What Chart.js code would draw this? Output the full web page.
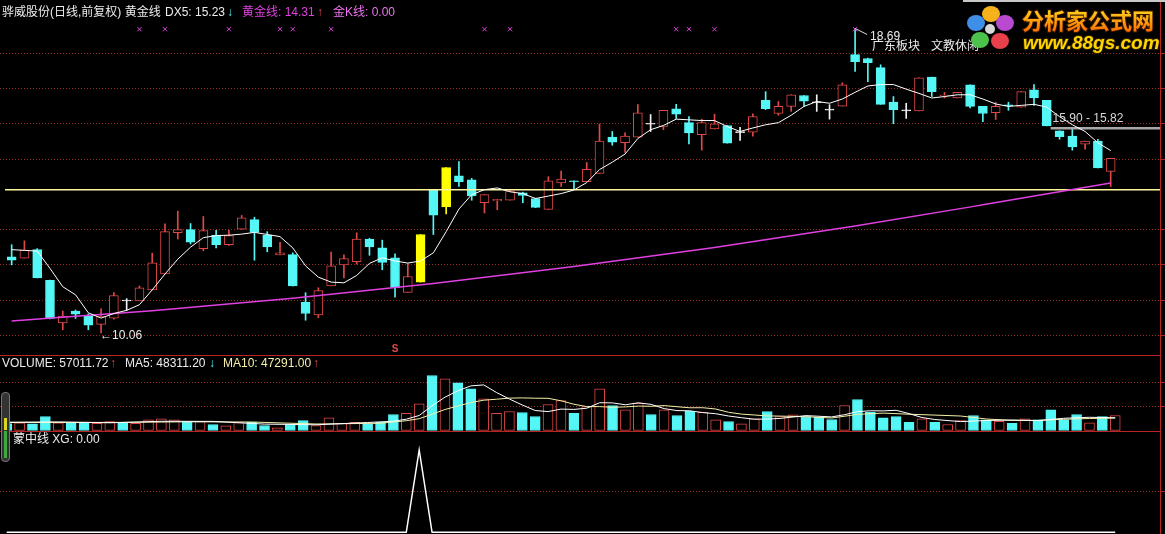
<!DOCTYPE html>
<html>
<head>
<meta charset="utf-8">
<script src="https://cdn.jsdelivr.net/npm/chart.js@4.4.1/dist/chart.umd.min.js"></script>
<style>
html, body { margin: 0; padding: 0; background: #000; overflow: hidden; }
#wrap { position: relative; width: 1165px; height: 534px; background: #000; }
#wrap canvas { position: absolute; left: 0; }
#sep1 { position: absolute; left: 0; top: 355px; width: 1161px; height: 1px; background: #b82424; }
#knob { position: absolute; left: 1px; top: 392px; width: 7px; height: 68px; border: 1px solid #777; border-radius: 4px; background: #333; }
#knob .y { position: absolute; left: 2px; top: 25px; width: 3px; height: 12px; background: #d8d820; }
#knob .g { position: absolute; left: 2px; top: 38px; width: 3px; height: 27px; background: #3caa3c; }
</style>
</head>
<body>
<div id="wrap">
  <canvas id="kline" width="1165" height="355" style="top:0"></canvas>
  <div id="sep1"></div>
  <canvas id="vol" width="1165" height="75" style="top:356px"></canvas>
  <canvas id="xg" width="1165" height="103" style="top:431px"></canvas>
  <div id="knob"><div class="y"></div><div class="g"></div></div>
</div>
<script>
// ---- values ----
const days = Array.from({ length: 87 }, (_, i) => i);

const opens = [
  12.22, 12.18, 12.42, 11.55, 10.34, 10.68, 10.56, 10.30, 10.48, 10.985,
  10.97, 11.28, 11.73, 12.90, 12.99, 12.45, 12.83, 12.56, 13.00, 13.27,
  12.83, 12.27, 12.28, 10.93, 10.57, 11.39, 11.99, 12.08, 12.72, 12.47,
  12.19, 11.21, 11.50, 14.10, 13.63, 14.51, 14.40, 13.75, 13.80, 13.82,
  14.03, 13.87, 13.56, 14.31, 14.37, 14.35, 14.58, 15.61, 15.45, 15.61,
  15.995, 15.91, 16.41, 16.02, 15.68, 15.84, 15.94, 15.745, 15.75, 16.65,
  16.28, 16.48, 16.79, 16.605, 16.395, 16.49, 17.95, 17.84, 17.58, 16.60,
  16.375, 16.35, 17.31, 16.78, 16.72, 17.09, 16.48, 16.30, 16.52, 16.46,
  16.95, 16.65, 15.79, 15.64, 15.41, 15.50, 14.64
];
const highs = [
  12.56, 12.67, 12.45, 11.56, 10.68, 10.71, 10.60, 10.74, 11.20, 11.03,
  11.39, 12.32, 13.15, 13.51, 13.16, 13.36, 12.97, 12.97, 13.39, 13.34,
  12.93, 12.63, 12.33, 11.20, 11.34, 12.35, 12.27, 12.90, 12.74, 12.69,
  12.30, 12.03, 12.85, 14.10, 14.75, 14.92, 14.44, 13.98, 13.85, 14.12,
  14.05, 13.88, 14.49, 14.65, 14.37, 14.89, 15.98, 15.77, 15.73, 16.53,
  16.25, 16.37, 16.54, 16.19, 16.12, 16.26, 15.94, 15.89, 16.27, 16.90,
  16.62, 16.81, 16.79, 16.81, 16.53, 17.15, 18.69, 17.85, 17.66, 16.76,
  16.57, 17.29, 17.31, 16.88, 16.88, 17.09, 16.48, 16.60, 16.60, 16.90,
  17.10, 16.65, 15.79, 15.84, 15.50, 15.55, 15.01
];
const lows = [
  11.99, 12.18, 11.62, 10.46, 10.15, 10.47, 10.15, 10.06, 10.45, 10.70,
  10.97, 11.28, 11.73, 12.72, 12.58, 12.39, 12.47, 12.54, 13.00, 12.12,
  12.36, 12.27, 11.39, 10.42, 10.49, 11.39, 11.62, 12.01, 12.26, 11.85,
  11.07, 11.21, 11.50, 12.85, 13.43, 14.21, 13.82, 13.46, 13.55, 13.82,
  13.75, 13.61, 13.56, 14.21, 14.12, 14.35, 14.58, 15.38, 15.18, 15.61,
  15.77, 15.82, 16.14, 15.42, 15.24, 15.84, 15.44, 15.52, 15.64, 16.39,
  16.23, 16.34, 16.48, 16.34, 16.12, 16.49, 17.47, 17.18, 16.54, 15.99,
  16.14, 16.35, 16.76, 16.72, 16.72, 16.44, 16.05, 16.11, 16.37, 16.46,
  16.51, 15.93, 15.55, 15.24, 15.27, 14.74, 14.21
];
const closes = [
  12.12, 12.41, 11.62, 10.47, 10.54, 10.59, 10.28, 10.54, 11.12, 10.975,
  11.34, 12.05, 12.93, 12.99, 12.63, 12.96, 12.56, 12.82, 13.32, 12.91,
  12.50, 12.33, 11.39, 10.61, 11.26, 11.96, 12.17, 12.72, 12.50, 12.06,
  11.34, 11.66, 12.85, 13.40, 14.75, 14.35, 13.94, 13.98, 13.85, 14.09,
  13.96, 13.62, 14.37, 14.42, 14.35, 14.70, 15.50, 15.47, 15.64, 16.30,
  15.985, 16.37, 16.26, 15.73, 16.02, 15.99, 15.44, 15.755, 16.19, 16.42,
  16.48, 16.81, 16.63, 16.595, 16.385, 17.09, 17.75, 17.72, 16.54, 16.39,
  16.365, 17.29, 16.90, 16.80, 16.88, 16.48, 16.28, 16.48, 16.50, 16.90,
  16.72, 15.93, 15.62, 15.33, 15.50, 14.74, 15.01
];

// DX5 (white line)
const dx5 = [
  12.42, 12.40, 12.38, 11.89, 11.37, 11.14, 10.63, 10.48, 10.61, 10.70,
  10.86, 11.28, 11.73, 12.15, 12.49, 12.76, 12.82, 12.83, 12.86, 12.91,
  12.85, 12.79, 12.47, 11.96, 11.64, 11.50, 11.48, 11.69, 12.03, 12.19,
  12.10, 12.04, 12.10, 12.33, 12.93, 13.57, 13.98, 14.12, 14.17, 14.06,
  14.01, 13.87, 13.94, 14.01, 14.11, 14.32, 14.69, 14.90, 15.13, 15.57,
  15.82, 15.94, 16.12, 16.10, 16.08, 16.08, 15.91, 15.77, 15.87, 15.96,
  16.02, 16.23, 16.48, 16.62, 16.57, 16.69, 16.88, 17.06, 17.10, 17.10,
  16.97, 16.85, 16.72, 16.76, 16.81, 16.81, 16.69, 16.55, 16.48, 16.51,
  16.54, 16.46, 16.19, 15.96, 15.77, 15.45, 15.23
];

// 黄金线 (magenta), read at a few days
const goldIdx = [0, 11, 22, 33, 44, 55, 66, 76, 86];
const goldVal = [10.40, 10.69, 11.04, 11.46, 11.94, 12.48, 13.09, 13.69, 14.31];

const goldK = [32, 34];                 // yellow candles
const markIdx = [10, 12, 17, 21, 22, 25, 37, 39, 52, 53, 55, 66];
const markLevel = 18.67;
const sellIdx = [30];
const baseLine = 14.12;                 // pale yellow horizontal
const rangeHigh = 15.90, rangeLow = 15.82, rangeFrom = 81.3;

const volumes = [
  26600, 29300, 25500, 53200, 29300, 27700, 27700, 27700, 34200, 27700,
  27700, 40700, 44500, 40700, 31500, 34200, 22800, 17900, 30400, 31500,
  19000, 10300, 22800, 38000, 19000, 48300, 27700, 31500, 25500, 31500,
  60800, 65700, 101500, 209000, 196500, 181300, 158500, 120500, 65700, 72200,
  68400, 53200, 98800, 114000, 65700, 91200, 158500, 95000, 78700, 103700,
  60800, 78700, 57000, 73300, 69500, 40700, 34200, 25500, 44500, 72200,
  53200, 59700, 53200, 50500, 41800, 95000, 117800, 69500, 48300, 53200,
  31500, 44500, 31500, 22800, 38000, 57000, 40700, 35300, 27700, 44500,
  40700, 78700, 40700, 60800, 29300, 53200, 57011.72
];
const volMa5 = [
  [0, 31500], [4, 32700], [8, 29300], [12, 35000], [16, 34600], [20, 24300], [24, 21700],
  [28, 30400], [30, 35300], [31, 42900], [32, 57000], [33, 93900], [34, 126500], [35, 150900],
  [36, 169500], [37, 173300], [38, 144400], [39, 119700], [40, 96900], [41, 76000], [42, 71800],
  [43, 81300], [44, 80200], [45, 84700], [46, 105600], [47, 104900], [48, 97700], [49, 105300],
  [50, 99200], [51, 83200], [52, 75600], [53, 74900], [54, 68000], [55, 63800], [56, 55100],
  [57, 48600], [58, 42900], [59, 43300], [60, 46000], [62, 56600], [64, 51700], [65, 60000],
  [66, 71800], [67, 74900], [68, 74500], [69, 76800], [70, 64200], [71, 49400], [72, 41800],
  [74, 33800], [76, 38000], [78, 39900], [80, 37600], [82, 46400], [84, 50200], [86, 48311.20]
];
const volMa10 = [
  [0, 30400], [9, 30800], [14, 33100], [19, 32300], [24, 24700], [29, 27400], [31, 37200],
  [32, 44800], [33, 61900], [34, 79800], [35, 93100], [36, 106000], [37, 115100], [38, 118900],
  [39, 123100], [40, 123900], [41, 122700], [42, 122400], [43, 112900], [44, 99900], [45, 90800],
  [46, 90800], [47, 88200], [48, 89700], [49, 92700], [50, 92000], [51, 94600], [52, 90400],
  [53, 86300], [54, 86600], [55, 81700], [56, 69200], [57, 62300], [58, 58900], [59, 55500],
  [60, 54700], [62, 52400], [64, 47500], [66, 61200], [68, 66100], [70, 61900], [72, 58500],
  [74, 55100], [76, 43700], [78, 38400], [80, 38400], [82, 42600], [84, 45600], [86, 47291.00]
];

// 蒙中线 XG
const xg = [
  0, 0, 0, 0, 0, 0, 0, 0, 0, 0,
  0, 0, 0, 0, 0, 0, 0, 0, 0, 0,
  0, 0, 0, 0, 0, 0, 0, 0, 0, 0,
  0, 0, 1, 0, 0, 0, 0, 0, 0, 0,
  0, 0, 0, 0, 0, 0, 0, 0, 0, 0,
  0, 0, 0, 0, 0, 0, 0, 0, 0, 0,
  0, 0, 0, 0, 0, 0, 0, 0, 0, 0,
  0, 0, 0, 0, 0, 0, 0, 0, 0, 0,
  0, 0, 0, 0, 0, 0, 0
];

const priceGrid = [10, 11, 12, 13, 15, 16, 17, 18];
const volGrid = [92000, 184000];
const xgGrid = [0.5];

// ---- styling ----
const RED = '#e04848', CYAN = '#55f6f6', YEL = '#ffff00', WHITE = '#f2f2f2';
const MAG = '#e040e0', PINK = '#ee74ee', TXT = '#ececec', GRID = '#962a2a', EDGE = '#b82424';
const FONT = '12px "Liberation Sans", "Noto Sans CJK SC", sans-serif';
const X_MIN = -0.52, X_MAX = 89.86;

function kColor(i) {
  if (goldK.includes(i)) return YEL;
  const d = closes[i] - opens[i];
  if (Math.abs(d) < 0.015) return WHITE;
  return d > 0 ? RED : CYAN;
}

function baseOptions(yMin, yMax) {
  return {
    responsive: false, animation: false, devicePixelRatio: 1, events: [],
    layout: { padding: 0 },
    plugins: { legend: { display: false }, tooltip: { enabled: false } },
    scales: {
      x: { type: 'linear', display: false, min: X_MIN, max: X_MAX, offset: false, bounds: 'data' },
      y: { type: 'linear', display: false, min: yMin, max: yMax, beginAtZero: false, bounds: 'data' }
    }
  };
}

function dotted(ctx, y) {
  const yy = Math.round(y) + 0.5;
  ctx.save();
  ctx.strokeStyle = GRID;
  ctx.lineWidth = 1;
  ctx.setLineDash([1, 2]);
  ctx.beginPath();
  ctx.moveTo(0, yy);
  ctx.lineTo(1160, yy);
  ctx.stroke();
  ctx.restore();
}

function rightEdge(ctx, h, ticks) {
  ctx.save();
  ctx.strokeStyle = EDGE;
  ctx.lineWidth = 1;
  ctx.beginPath();
  ctx.moveTo(1160.5, 0);
  ctx.lineTo(1160.5, h);
  ticks.forEach(t => {
    ctx.moveTo(1160, Math.round(t) + 0.5);
    ctx.lineTo(1165, Math.round(t) + 0.5);
  });
  ctx.stroke();
  ctx.restore();
}

function text(ctx, x, y, str, color, font, align) {
  ctx.font = font || FONT;
  ctx.fillStyle = color;
  ctx.textBaseline = 'middle';
  ctx.textAlign = align || 'left';
  ctx.fillText(str, x, y);
}

function drawLogo(ctx) {
  ctx.save();
  ctx.textAlign = 'left';
  ctx.fillStyle = '#c8c8c8';
  ctx.fillRect(963, 0, 202, 2);
  const cx = 990, cy = 29;
  const petals = [[1, -15, '#f6b21b'], [-14, -6, '#3f8fe8'], [15, -6, '#b84ad0'], [-10, 11, '#4cc24c'], [10, 12, '#e8404a']];
  petals.forEach(([dx, dy, c]) => {
    ctx.beginPath();
    ctx.ellipse(cx + dx, cy + dy, 9, 8, 0, 0, Math.PI * 2);
    ctx.fillStyle = c;
    ctx.fill();
  });
  ctx.beginPath();
  ctx.arc(cx, cy, 5, 0, Math.PI * 2);
  ctx.fillStyle = '#d8d8d8';
  ctx.fill();

  ctx.textBaseline = 'middle';
  ctx.font = 'bold 22px "Noto Sans CJK SC", sans-serif';
  const g = ctx.createLinearGradient(0, 10, 0, 32);
  g.addColorStop(0, '#ffd21a');
  g.addColorStop(1, '#ff6c00');
  ctx.lineWidth = 2;
  ctx.strokeStyle = '#3a1800';
  ctx.strokeText('分析家公式网', 1022, 21);
  ctx.fillStyle = g;
  ctx.fillText('分析家公式网', 1022, 21);

  ctx.font = 'italic bold 19px "Liberation Sans", sans-serif';
  ctx.strokeStyle = '#2a2000';
  ctx.strokeText('www.88gs.com', 1023, 44);
  ctx.fillStyle = '#ffd400';
  ctx.fillText('www.88gs.com', 1023, 44);
  ctx.restore();
}

// ---- main candle panel ----
const bodies = days.map(i => {
  let a = opens[i], b = closes[i];
  if (Math.abs(a - b) < 0.028) { const m = (a + b) / 2; a = m - 0.014; b = m + 0.014; }
  return { x: i, y: [a, b] };
});
const colors = days.map(kColor);
const hiIdx = highs.indexOf(Math.max(...highs));
const loIdx = lows.indexOf(Math.min(...lows));

const mainDeco = {
  id: 'mainDeco',
  beforeDatasetsDraw(chart) {
    const { ctx, scales: { y } } = chart;
    priceGrid.forEach(v => dotted(ctx, y.getPixelForValue(v)));
    rightEdge(ctx, chart.height, priceGrid.map(v => y.getPixelForValue(v)));
  },
  afterDatasetsDraw(chart) {
    const { ctx, scales: { x, y } } = chart;
    // title row
    text(ctx, 2, 13, '骅威股份(日线,前复权) 黄金线', TXT);
    text(ctx, 165, 13, 'DX5: ' + dx5[dx5.length - 1].toFixed(2), TXT);
    text(ctx, 227, 13, '↓', CYAN);
    text(ctx, 242, 13, '黄金线: ' + goldVal[goldVal.length - 1].toFixed(2), MAG);
    text(ctx, 317, 13, '↑', RED);
    text(ctx, 333, 13, '金K线: 0.00', PINK);

    // highest / lowest price notes
    const hx = x.getPixelForValue(hiIdx), hy = y.getPixelForValue(highs[hiIdx]);
    ctx.save();
    ctx.strokeStyle = '#dcdcdc';
    ctx.lineWidth = 1;
    ctx.beginPath();
    ctx.moveTo(hx, hy);
    ctx.lineTo(hx + 12, hy + 6);
    ctx.stroke();
    ctx.restore();
    text(ctx, hx + 15, hy + 8, highs[hiIdx].toFixed(2), TXT);
    const lx = x.getPixelForValue(loIdx), ly = y.getPixelForValue(lows[loIdx]);
    text(ctx, lx - 1, ly + 3, '←' + lows[loIdx].toFixed(2), TXT);

    text(ctx, 872, 47, '广东板块', TXT);
    text(ctx, 931, 47, '文教休闲', TXT);

    // range note
    const mid = (rangeHigh + rangeLow) / 2;
    text(ctx, x.getPixelForValue(rangeFrom) + 2, y.getPixelForValue(mid) - 10,
      rangeHigh.toFixed(2) + ' - ' + rangeLow.toFixed(2), '#d8d8d8');

    // sell marks
    sellIdx.forEach(i => {
      text(ctx, x.getPixelForValue(i), 349, 'S', RED, 'bold 10px "Liberation Sans", sans-serif', 'center');
    });

    drawLogo(ctx);
  }
};

const pMin = 10 - 15.4 / 36.3, pMax = 10 + 339.6 / 36.3;
new Chart(document.getElementById('kline'), {
  type: 'bar',
  data: {
    datasets: [
      {
        label: 'wick', order: 4, grouped: false,
        data: days.map(i => ({ x: i, y: [lows[i], highs[i]] })),
        backgroundColor: colors, borderWidth: 0,
        barThickness: 1, maxBarThickness: 1
      },
      {
        label: 'body', order: 3, grouped: false,
        data: bodies,
        backgroundColor: colors.map(c => (c === RED ? '#000' : c)),
        borderColor: colors, borderWidth: 1, borderSkipped: false,
        barThickness: 9, maxBarThickness: 9
      },
      {
        type: 'line', label: 'base', order: 2,
        data: [{ x: X_MIN, y: baseLine }, { x: X_MAX, y: baseLine }],
        borderColor: '#fff59a', borderWidth: 1.5, pointRadius: 0
      },
      {
        type: 'line', label: 'range', order: 2,
        data: [{ x: rangeFrom, y: (rangeHigh + rangeLow) / 2 }, { x: X_MAX, y: (rangeHigh + rangeLow) / 2 }],
        borderColor: '#a8a8a8', borderWidth: 2.5, pointRadius: 0
      },
      {
        type: 'line', label: '黄金线', order: 1,
        data: goldIdx.map((i, k) => ({ x: i, y: goldVal[k] })),
        borderColor: MAG, borderWidth: 1.5, pointRadius: 0, cubicInterpolationMode: 'monotone'
      },
      {
        type: 'line', label: 'DX5', order: 0,
        data: dx5.map((v, i) => ({ x: i, y: v })),
        borderColor: '#ffffff', borderWidth: 1, pointRadius: 0, tension: 0
      },
      {
        type: 'line', label: 'marks', order: 0, showLine: false,
        data: markIdx.map(i => ({ x: i, y: markLevel })),
        borderColor: MAG, pointStyle: 'crossRot', pointRadius: 3, pointBorderWidth: 1
      }
    ]
  },
  options: baseOptions(pMin, pMax),
  plugins: [mainDeco]
});

// ---- volume panel ----
const volUp = days.map(i => goldK.includes(i) || closes[i] > opens[i]);
const volDeco = {
  id: 'volDeco',
  beforeDatasetsDraw(chart) {
    const { ctx, scales: { y } } = chart;
    volGrid.forEach(v => dotted(ctx, y.getPixelForValue(v)));
    rightEdge(ctx, chart.height, volGrid.map(v => y.getPixelForValue(v)));
  },
  afterDatasetsDraw(chart) {
    const { ctx } = chart;
    text(ctx, 2, 8, 'VOLUME: ' + volumes[volumes.length - 1].toFixed(2), TXT);
    text(ctx, 110, 8, '↑', RED);
    text(ctx, 125, 8, 'MA5: ' + volMa5[volMa5.length - 1][1].toFixed(2), TXT);
    text(ctx, 209, 8, '↓', CYAN);
    text(ctx, 223, 8, 'MA10: ' + volMa10[volMa10.length - 1][1].toFixed(2), '#f4f0a8');
    text(ctx, 313, 8, '↑', RED);
  }
};
new Chart(document.getElementById('vol'), {
  type: 'bar',
  data: {
    datasets: [
      {
        label: 'VOLUME', order: 2, grouped: false,
        data: volumes.map((v, i) => ({ x: i, y: v })),
        backgroundColor: volUp.map(u => (u ? '#000' : CYAN)),
        borderColor: volUp.map(u => (u ? RED : CYAN)),
        borderWidth: 1, borderSkipped: false,
        barThickness: 10, maxBarThickness: 10
      },
      {
        type: 'line', label: 'MA5', order: 0,
        data: volMa5.map(([i, v]) => ({ x: i, y: v })),
        borderColor: '#ffffff', borderWidth: 1, pointRadius: 0
      },
      {
        type: 'line', label: 'MA10', order: 1,
        data: volMa10.map(([i, v]) => ({ x: i, y: v })),
        borderColor: '#f4f0a8', borderWidth: 1, pointRadius: 0
      }
    ]
  },
  options: baseOptions(-1900, 283100),
  plugins: [volDeco]
});

// ---- XG panel ----
const xgDeco = {
  id: 'xgDeco',
  beforeDatasetsDraw(chart) {
    const { ctx, scales: { y } } = chart;
    xgGrid.forEach(v => dotted(ctx, y.getPixelForValue(v)));
    rightEdge(ctx, chart.height, xgGrid.map(v => y.getPixelForValue(v)));
    ctx.save();
    ctx.strokeStyle = EDGE;
    ctx.beginPath();
    ctx.moveTo(0, 0.5);
    ctx.lineTo(1161, 0.5);
    ctx.stroke();
    ctx.restore();
  },
  afterDatasetsDraw(chart) {
    text(chart.ctx, 13, 9, '蒙中线 XG: ' + xg[xg.length - 1].toFixed(2), TXT);
  }
};
new Chart(document.getElementById('xg'), {
  type: 'line',
  data: {
    datasets: [{
      label: 'XG',
      data: xg.map((v, i) => ({ x: i, y: v })),
      borderColor: '#ffffff', borderWidth: 1.5, pointRadius: 0, tension: 0
    }]
  },
  options: baseOptions(-0.021, 1.231),
  plugins: [xgDeco]
});
</script>
</body>
</html>
